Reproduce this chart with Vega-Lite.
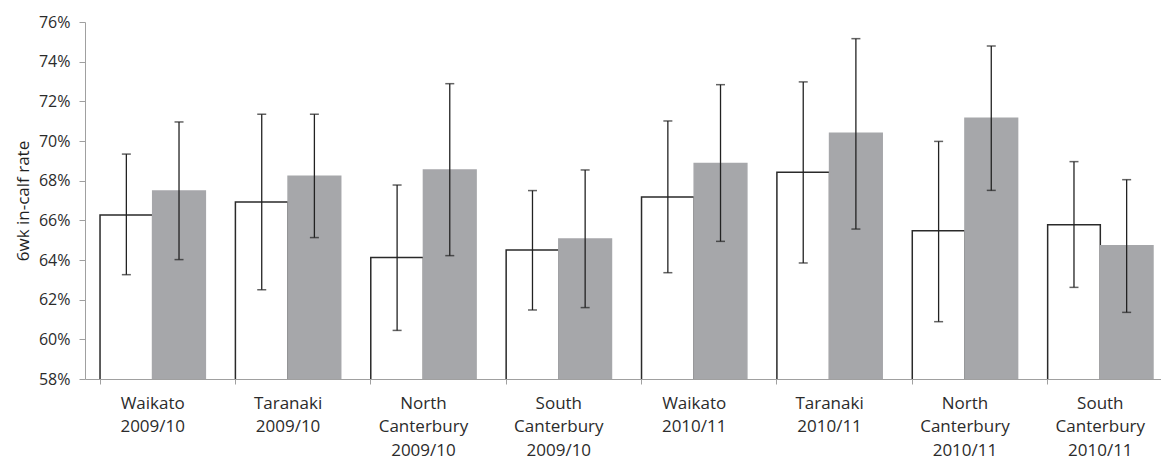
{
  "$schema": "https://vega.github.io/schema/vega-lite/v6.json",
  "autosize": {"type": "none"},
  "padding": {"left": 85, "top": 22, "right": 0, "bottom": 81},
  "width": 1076,
  "height": 357,
  "background": "white",
  "config": {
    "view": {"stroke": null},
    "font": "Open Sans",
    "axis": {"grid": false, "domainColor": "#a0a0a0", "tickColor": "#a0a0a0", "labelColor": "#2b2b2b", "titleColor": "#1f1f1f", "labelFont": "Open Sans", "titleFont": "Open Sans", "labelOverlap": false, "zindex": 1},
    "axisY": {"labelFontSize": 16, "titleFontSize": 17, "titleFontWeight": "normal", "titlePadding": 6, "tickSize": 6, "labelPadding": 9, "labelOverlap": false},
    "axisX": {"labelFontSize": 17, "labelLineHeight": 23.5, "labelPadding": 11, "tickSize": 5, "labelAngle": 0}
  },
  "data": {
    "values": [
      {"region": "Waikato|2009/10", "series": "1", "rate": 0.6627, "lo": 0.6326, "hi": 0.6934},
      {"region": "Waikato|2009/10", "series": "2", "rate": 0.6748, "lo": 0.6402, "hi": 0.7096},
      {"region": "Taranaki|2009/10", "series": "1", "rate": 0.6693, "lo": 0.6250, "hi": 0.7135},
      {"region": "Taranaki|2009/10", "series": "2", "rate": 0.6822, "lo": 0.6513, "hi": 0.7135},
      {"region": "North|Canterbury|2009/10", "series": "1", "rate": 0.6412, "lo": 0.6045, "hi": 0.6778},
      {"region": "North|Canterbury|2009/10", "series": "2", "rate": 0.6854, "lo": 0.6422, "hi": 0.7289},
      {"region": "South|Canterbury|2009/10", "series": "1", "rate": 0.6450, "lo": 0.6148, "hi": 0.6750},
      {"region": "South|Canterbury|2009/10", "series": "2", "rate": 0.6506, "lo": 0.6160, "hi": 0.6854},
      {"region": "Waikato|2010/11", "series": "1", "rate": 0.6718, "lo": 0.6336, "hi": 0.7101},
      {"region": "Waikato|2010/11", "series": "2", "rate": 0.6886, "lo": 0.6494, "hi": 0.7284},
      {"region": "Taranaki|2010/11", "series": "1", "rate": 0.6842, "lo": 0.6385, "hi": 0.7298},
      {"region": "Taranaki|2010/11", "series": "2", "rate": 0.7039, "lo": 0.6556, "hi": 0.7516},
      {"region": "North|Canterbury|2010/11", "series": "1", "rate": 0.6548, "lo": 0.6089, "hi": 0.6998},
      {"region": "North|Canterbury|2010/11", "series": "2", "rate": 0.7115, "lo": 0.6751, "hi": 0.7479},
      {"region": "South|Canterbury|2010/11", "series": "1", "rate": 0.6578, "lo": 0.6262, "hi": 0.6896},
      {"region": "South|Canterbury|2010/11", "series": "2", "rate": 0.6472, "lo": 0.6136, "hi": 0.6805}
    ]
  },
  "encoding": {
    "x": {
      "field": "region",
      "type": "nominal",
      "sort": null,
      "scale": {"range": [0, 1083], "paddingInner": 0.222, "paddingOuter": 0.111},
      "axis": {
        "title": null,
        "bandPosition": 0,
        "labelBaseline": "top",
        "labelExpr": "split(datum.label, '|')"
      }
    },
    "xOffset": {"field": "series", "type": "nominal", "scale": {"paddingInner": 0, "paddingOuter": 0}}
  },
  "layer": [
    {
      "mark": {"type": "bar", "strokeWidth": 1.5, "clip": true},
      "encoding": {
        "y": {
          "field": "rate",
          "type": "quantitative",
          "scale": {"domain": [0.58, 0.76], "nice": false, "zero": false},
          "axis": {"title": "6wk in-calf rate", "format": ".0%", "values": [0.58, 0.6, 0.62, 0.64, 0.66, 0.68, 0.7, 0.72, 0.74, 0.76], "labelOverlap": false}
        },
        "y2": {"datum": 0.575},
        "fill": {"field": "series", "type": "nominal", "scale": {"domain": ["1", "2"], "range": ["#ffffff", "#a6a7aa"]}, "legend": null},
        "stroke": {"field": "series", "type": "nominal", "scale": {"domain": ["1", "2"], "range": ["#2a2a2a", "#a6a7aa"]}, "legend": null}
      }
    },
    {
      "mark": {"type": "rule", "color": "#222222", "strokeWidth": 1.3},
      "encoding": {
        "y": {"field": "lo", "type": "quantitative", "axis": {"title": "6wk in-calf rate", "format": ".0%", "values": [0.58, 0.6, 0.62, 0.64, 0.66, 0.68, 0.7, 0.72, 0.74, 0.76], "labelOverlap": false}},
        "y2": {"field": "hi"}
      }
    },
    {
      "mark": {"type": "tick", "color": "#222222", "thickness": 1.5, "size": 9},
      "encoding": {"y": {"field": "lo", "type": "quantitative", "axis": {"title": "6wk in-calf rate", "format": ".0%", "values": [0.58, 0.6, 0.62, 0.64, 0.66, 0.68, 0.7, 0.72, 0.74, 0.76], "labelOverlap": false}}}
    },
    {
      "mark": {"type": "tick", "color": "#222222", "thickness": 1.5, "size": 9},
      "encoding": {"y": {"field": "hi", "type": "quantitative", "axis": {"title": "6wk in-calf rate", "format": ".0%", "values": [0.58, 0.6, 0.62, 0.64, 0.66, 0.68, 0.7, 0.72, 0.74, 0.76], "labelOverlap": false}}}
    }
  ]
}
